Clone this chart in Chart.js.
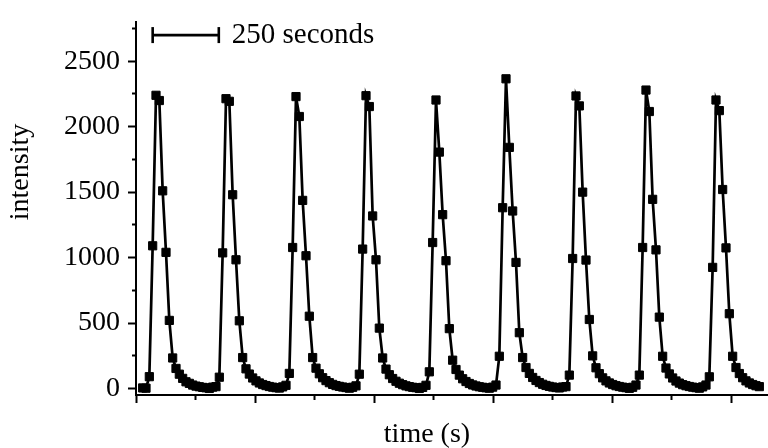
<!DOCTYPE html>
<html>
<head>
<meta charset="utf-8">
<title>intensity pulses</title>
<script src="https://cdn.jsdelivr.net/npm/chart.js@4.4.1/dist/chart.umd.min.js"></script>
<style>
  html, body { margin: 0; padding: 0; background: #fff; }
  #wrap { width: 768px; height: 448px; }
</style>
</head>
<body>
<div id="wrap"><canvas id="pulseChart" width="768" height="448"></canvas></div>
<script>
// frames are recorded every SAMPLE_STEP seconds, the first kept frame is FIRST_FRAME
const SAMPLE_STEP = 12.6;
const FIRST_FRAME = 2;

// intensity per frame, one array per burst (pre-rise .. end of tail)
const baseline = [4, 2];
const burst1 = [90, 1090, 2240, 2200, 1510, 1040, 520, 233, 153, 109, 77, 51, 39, 26, 18, 13, 8, 5, 0, 10, 14];
const burst2 = [86, 1036, 2214, 2194, 1480, 983, 517, 236, 150, 110, 80, 58, 42, 30, 22, 15, 10, 6, 3, 12, 24];
const burst3 = [115, 1077, 2230, 2078, 1437, 1014, 552, 236, 155, 112, 82, 60, 44, 31, 22, 16, 11, 7, 2, 9, 20];
const burst4 = [109, 1065, 2237, 2154, 1318, 983, 461, 233, 148, 105, 76, 55, 40, 29, 20, 14, 9, 6, 0, 8, 24];
const burst5 = [127, 1115, 2204, 1806, 1328, 976, 457, 216, 145, 102, 74, 53, 38, 27, 19, 13, 9, 5, 2, 10, 26];
const burst6 = [246, 1381, 2366, 1842, 1356, 963, 426, 236, 160, 115, 84, 61, 45, 32, 23, 16, 11, 7, 4, 11, 14];
const burst7 = [102, 993, 2235, 2159, 1500, 981, 527, 249, 158, 113, 81, 58, 42, 30, 21, 15, 10, 6, 1, 9, 26];
const burst8 = [102, 1077, 2280, 2116, 1445, 1059, 545, 246, 156, 111, 80, 57, 41, 29, 21, 15, 10, 6, 2, 12, 26];
const burst9 = [89, 925, 2204, 2123, 1520, 1074, 571, 246, 160, 114, 82, 58, 42, 30, 21, 14];

const intensity = [].concat(baseline, burst1, burst2, burst3, burst4, burst5,
  burst6, burst7, burst8, burst9);

// 250 s scale bar, in data units
const scaleBarTimes = [63, 313];
const scaleBarLevel = [2700, 2700];
const scaleBarText = '250 seconds';

const SERIF = '"Liberation Serif", "Times New Roman", serif';

const points = intensity.map((v, i) => ({ x: (FIRST_FRAME + i) * SAMPLE_STEP, y: v }));
const barPoints = scaleBarTimes.map((t, i) => ({ x: t, y: scaleBarLevel[i] }));

// axis titles and the scale bar caption
const textLabels = {
  id: 'textLabels',
  afterDraw(chart) {
    const { ctx, scales: { x, y } } = chart;
    ctx.save();
    ctx.fillStyle = '#000';
    ctx.textBaseline = 'alphabetic';

    ctx.font = '29px ' + SERIF;
    ctx.textAlign = 'left';
    ctx.fillText(scaleBarText, x.getPixelForValue(scaleBarTimes[1]) + 13, y.getPixelForValue(scaleBarLevel[1]) + 8);

    ctx.font = '28px ' + SERIF;
    ctx.textAlign = 'center';
    ctx.fillText('time (s)', 427, 442);

    ctx.translate(28, 172);
    ctx.rotate(-Math.PI / 2);
    ctx.fillText('intensity', 0, 0);
    ctx.restore();
  }
};

const ctx = document.getElementById('pulseChart').getContext('2d');
const pulseChart = new Chart(ctx, {
  type: 'line',
  data: {
    datasets: [
      {
        label: 'intensity',
        data: points,
        borderColor: '#000',
        borderWidth: 2.7,
        pointStyle: 'rect',
        pointRadius: 5.8,
        pointBackgroundColor: '#000',
        pointBorderColor: '#000',
        pointBorderWidth: 1,
        tension: 0,
        fill: false,
      },
      {
        label: 'scale bar',
        data: barPoints,
        borderColor: '#000',
        borderWidth: 2.6,
        pointStyle: 'line',
        pointRotation: 90,
        pointRadius: 8,
        pointBorderColor: '#000',
        pointBorderWidth: 2.6,
        fill: false,
      },
    ],
  },
  options: {
    responsive: false,
    animation: false,
    layout: { autoPadding: false, padding: { top: 20, right: 0, left: 0, bottom: 0 } },
    plugins: {
      legend: { display: false },
      tooltip: { enabled: false },
    },
    scales: {
      x: {
        type: 'linear',
        min: 0,
        max: 2389,
        afterFit: (s) => {
          s.height = 53;
          s.paddingLeft = 0;
          s.paddingRight = 0;
        },
        border: { color: '#000', width: 2 },
        grid: {
          drawOnChartArea: false,
          tickLength: 8,
          tickColor: '#000',
          tickWidth: 2,
          // half length for the minor ticks
          tickBorderDash: (c) => (c.tick && c.tick.value % 450 !== 0 ? [4, 100] : []),
        },
        ticks: { display: false, stepSize: 225, includeBounds: false },
      },
      y: {
        min: -50,
        max: 2800,
        afterFit: (s) => { s.width = 136; },
        border: { color: '#000', width: 2 },
        grid: {
          drawOnChartArea: false,
          tickLength: 8,
          tickColor: '#000',
          tickWidth: 2,
          tickBorderDash: (c) => (c.tick && c.tick.value % 500 !== 0 ? [0, 4, 4, 100] : []),
        },
        ticks: {
          stepSize: 250,
          includeBounds: false,
          padding: 8,
          color: '#000',
          font: { family: SERIF, size: 28, lineHeight: 1 },
          callback: (v) => (v % 500 === 0 ? v : ''),
        },
      },
    },
  },
  plugins: [textLabels],
});
</script>
</body>
</html>
